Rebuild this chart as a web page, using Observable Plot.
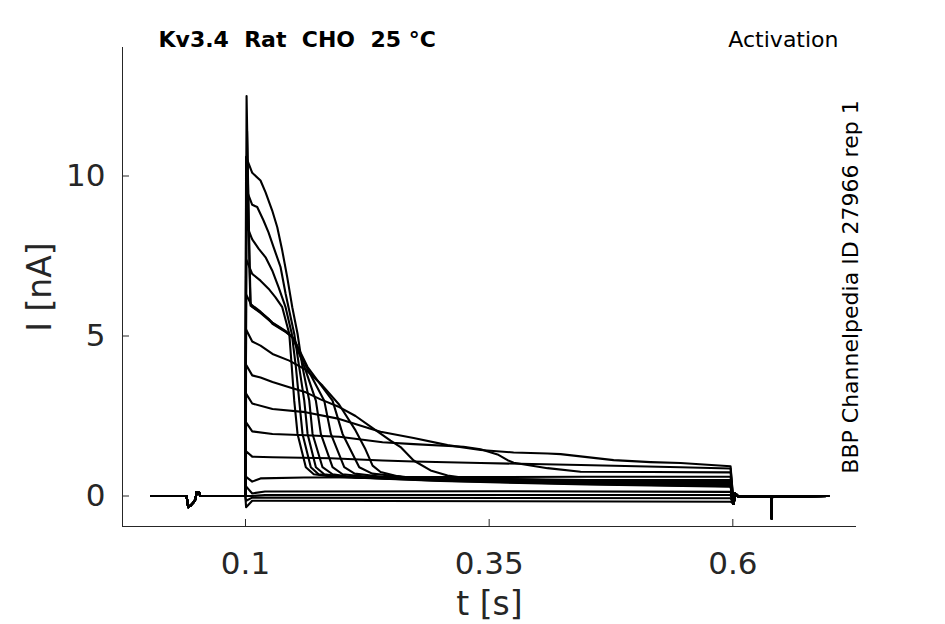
<!DOCTYPE html>
<html>
<head>
<meta charset="utf-8">
<script src="https://cdn.jsdelivr.net/npm/d3@7"></script>
<script src="https://cdn.jsdelivr.net/npm/@observablehq/plot@0.6"></script>
<style>
  html, body { margin: 0; padding: 0; background: white; }
</style>
</head>
<body>
<div id="chart"></div>
<script>
// ---- axis settings ----
const xDomain = [-0.0262, 0.7269];
const yDomain = [-0.953, 14.016];
const xTicks = [0.1, 0.35, 0.6];
const yTicks = [0, 5, 10];
const titleText = ["Kv3.4", "Rat", "CHO", "25 °C"].join("\u00a0\u00a0");
const protocolText = "Activation";
const sideText = "BBP Channelpedia ID 27966 rep 1";
const xLabel = "t [s]";
const yLabel = "I [nA]";

// ---- shared holding segments [t (s), I (nA)] ----
const pre = [[0.003,0],[0.0395,0],[0.0412,-0.35],[0.0436,-0.3],[0.0467,-0.2],[0.0487,-0.1],[0.0498,0.12],[0.0525,0.1],[0.0535,0],[0.0995,0]];
const post = [[0.6008,-0.25],[0.6025,0.08],[0.606,-0.02],[0.6396,-0.02],[0.6398,-0.7],[0.6402,-0.02],[0.698,0]];

// ---- step segments, one per sweep [t (s), I (nA)] ----
const X2  = [[0.0998,0],[0.1011,12.5],[0.1031,9.0],[0.1052,6.0],[0.1154,5.76],[0.1277,5.42],[0.1414,5.15],[0.1493,4.93],[0.1637,4.03],[0.1893,2.98],[0.1996,1.94],[0.2167,0.9],[0.23,0.7],[0.26,0.6],[0.35,0.53],[0.45,0.47],[0.5977,0.42]];
const X1  = [[0.0998,0],[0.1016,11.4],[0.1041,7.0],[0.1052,5.95],[0.1154,5.72],[0.1277,5.4],[0.1414,5.14],[0.1493,4.92],[0.1626,4.03],[0.1808,2.98],[0.1876,1.94],[0.2013,0.9],[0.212,0.7],[0.24,0.6],[0.33,0.52],[0.45,0.45],[0.5977,0.4]];
const S10 = [[0.0998,0],[0.1006,10.6],[0.1069,10.1],[0.1154,9.86],[0.1206,9.49],[0.1274,8.92],[0.1326,8.4],[0.1377,7.67],[0.1428,6.84],[0.1480,5.9],[0.1534,5.07],[0.1585,4.03],[0.1654,2.98],[0.1688,1.94],[0.1790,0.9],[0.1893,0.68],[0.2129,0.58],[0.30,0.5],[0.45,0.42],[0.5977,0.36]];
const S9  = [[0.0998,0],[0.1006,9.6],[0.1069,9.1],[0.1120,9.03],[0.1185,8.61],[0.1236,8.24],[0.1288,7.78],[0.1360,7.15],[0.1411,6.33],[0.1500,5.07],[0.1551,4.03],[0.1603,2.98],[0.1637,1.94],[0.1722,0.9],[0.1808,0.68],[0.2,0.6],[0.30,0.5],[0.45,0.4],[0.5977,0.34]];
const S8  = [[0.0998,0],[0.1006,8.5],[0.1069,8.02],[0.1134,7.73],[0.1206,7.46],[0.1274,7.05],[0.1339,6.53],[0.1411,5.9],[0.1475,5.07],[0.1517,4.03],[0.1551,2.98],[0.1585,1.94],[0.1670,0.9],[0.1750,0.68],[0.195,0.6],[0.30,0.48],[0.45,0.38],[0.5977,0.31]];
const S7  = [[0.0998,0],[0.1006,7.4],[0.1069,6.94],[0.1154,6.73],[0.1236,6.48],[0.1308,6.21],[0.1377,5.9],[0.1449,5.07],[0.1475,4.03],[0.1500,2.98],[0.1534,1.94],[0.1619,0.9],[0.170,0.68],[0.19,0.6],[0.30,0.47],[0.45,0.36],[0.5977,0.29]];
const S6  = [[0.0998,0],[0.1006,6.3],[0.1069,5.92],[0.1154,5.74],[0.1236,5.54],[0.1277,5.38],[0.1414,5.12],[0.1483,4.96],[0.1606,4.03],[0.1722,2.98],[0.1773,1.94],[0.1893,0.9],[0.1996,0.68],[0.225,0.6],[0.32,0.5],[0.45,0.43],[0.5977,0.38]];
const S5  = [[0.0998,0],[0.1006,5.2],[0.1069,4.83],[0.1154,4.7],[0.1277,4.44],[0.1449,4.23],[0.1616,3.95],[0.1790,3.45],[0.1962,2.85],[0.2129,2.05],[0.2232,1.45],[0.2304,0.95],[0.2386,0.75],[0.2560,0.62],[0.2725,0.56],[0.35,0.52],[0.45,0.48],[0.5977,0.45]];
const S4  = [[0.0998,0],[0.1006,4.1],[0.1069,3.77],[0.1154,3.7],[0.1277,3.56],[0.1449,3.4],[0.1619,3.24],[0.1770,3.02],[0.1962,2.78],[0.2129,2.5],[0.2283,2.17],[0.2386,1.95],[0.2488,1.73],[0.2591,1.53],[0.2725,1.11],[0.2899,0.8],[0.3073,0.64],[0.3237,0.57],[0.3617,0.53],[0.45,0.5],[0.5977,0.5]];
const S3  = [[0.0998,0],[0.1006,3.2],[0.1069,2.89],[0.1277,2.72],[0.1616,2.62],[0.1962,2.41],[0.2283,2.1],[0.2386,2.01],[0.2725,1.81],[0.3073,1.59],[0.3412,1.44],[0.3751,1.36],[0.4099,1.33],[0.4233,1.31],[0.4777,1.12],[0.5156,1.06],[0.5464,1.03],[0.5977,0.93]];
const S2  = [[0.0998,0],[0.1006,2.3],[0.1069,2.02],[0.1277,1.94],[0.1616,1.9],[0.1962,1.85],[0.2406,1.68],[0.2725,1.62],[0.3237,1.54],[0.3412,1.46],[0.3586,1.3],[0.3689,1.12],[0.3751,1.04],[0.4099,0.87],[0.4438,0.76],[0.5156,0.75],[0.5977,0.74]];
const S1  = [[0.0998,0],[0.1006,1.4],[0.1069,1.23],[0.1277,1.21],[0.1873,1.18],[0.2406,1.11],[0.2725,1.08],[0.3412,1.03],[0.4438,0.97],[0.5464,0.9],[0.5977,0.86]];
const S0  = [[0.0998,0],[0.1006,0.6],[0.1069,0.45],[0.1154,0.55],[0.16,0.58],[0.30,0.59],[0.45,0.6],[0.5977,0.6]];
const B1  = [[0.0998,0],[0.1006,0.3],[0.1069,0.08],[0.12,0.14],[0.35,0.15],[0.5977,0.13]];
const B2  = [[0.0998,0],[0.1069,0.0],[0.12,0.03],[0.5977,0.03]];
const B3  = [[0.0998,0],[0.1006,-0.15],[0.1069,-0.05],[0.5977,-0.07]];
const B4  = [[0.0998,0],[0.1006,-0.35],[0.1069,-0.15],[0.5977,-0.18]];

const sweepNames = ["B4","B3","B2","B1","S0","S1","S2","S3","S4","S5","S6","S7","S8","S9","S10","X1","X2"];
const sweepSegs  = [B4, B3, B2, B1, S0, S1, S2, S3, S4, S5, S6, S7, S8, S9, S10, X1, X2];

const rows = [];
sweepSegs.forEach((seg, k) => {
  for (const [t, I] of [...pre, ...seg, ...post]) rows.push({sweep: sweepNames[k], t, I});
});

const ink = "#262626";
const chart = Plot.plot({
  width: 945,
  height: 624,
  marginLeft: 122,
  marginRight: 89,
  marginTop: 47,
  marginBottom: 98,
  style: {fontFamily: "DejaVu Sans", background: "white", color: ink},
  x: {domain: xDomain, axis: null},
  y: {domain: yDomain, axis: null},
  marks: [
    Plot.ruleX([xDomain[0]], {stroke: ink, strokeWidth: 1}),
    Plot.ruleY([yDomain[0]], {stroke: ink, strokeWidth: 1}),
    Plot.axisX(xTicks, {anchor: "bottom", tickSize: -7, tickPadding: 32, fontSize: 31, tickFormat: d => String(d), label: null, stroke: ink, fill: ink}),
    Plot.axisY(yTicks, {anchor: "left", tickSize: -7, tickPadding: 24, fontSize: 31, tickFormat: d => String(d), label: null, stroke: ink, fill: ink}),
    Plot.text([yLabel], {frameAnchor: "left", dx: -82, rotate: -90, textAnchor: "middle", lineAnchor: "middle", fontSize: 33, fill: ink}),
    Plot.text([xLabel], {frameAnchor: "bottom", dy: 78, textAnchor: "middle", lineAnchor: "middle", fontSize: 33, fill: ink}),
    Plot.text([titleText], {frameAnchor: "top-left", dx: 36, dy: -8, textAnchor: "start", lineAnchor: "middle", fontWeight: "bold", fontSize: 22, fill: "black"}),
    Plot.text([protocolText], {frameAnchor: "top-right", dx: -18, dy: -8, textAnchor: "end", lineAnchor: "middle", fontSize: 22, fill: "black"}),
    Plot.text([sideText], {frameAnchor: "right", dx: -6, rotate: -90, textAnchor: "middle", lineAnchor: "middle", fontSize: 22, fill: "black"}),
    Plot.line(rows, {x: "t", y: "I", z: "sweep", stroke: "black", strokeWidth: 2.1, strokeLinejoin: "round"})
  ]
});
document.getElementById("chart").appendChild(chart);
</script>
</body>
</html>
